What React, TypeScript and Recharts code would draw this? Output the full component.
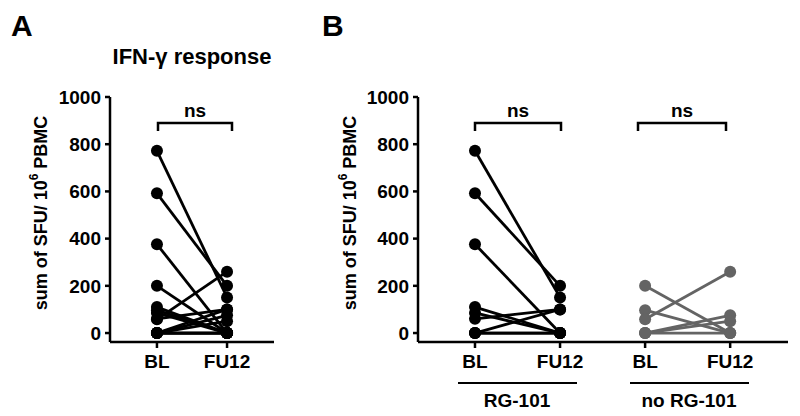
import React from "react";
import { LineChart, Line, XAxis, YAxis } from "recharts";

// ---- data ----
const timepoints = ["BL", "FU12"];
const yTicks = [0, 200, 400, 600, 800, 1000];

// RG-101 treated patients
const rgBL = [772, 592, 376, 110, 85, 60, 0, 0, 0];
const rgFU12 = [151, 200, 0, 0, 0, 100, 100, 0, 0];

// no RG-101 patients
const noRgBL = [200, 97, 58, 0, 0, 0];
const noRgFU12 = [0, 0, 260, 75, 50, 0];

const groupLabels = ["RG-101", "no RG-101"];
const yLabelMain = "sum of SFU/ 10";
const yLabelSup = "6";
const yLabelTail = " PBMC";

const FONT = "'Liberation Sans', Arial, Helvetica, sans-serif";
const BLACK = "#000000";
const GREY = "#646464";

type Pt = { x: number; y: number };
const pairs = (bl: number[], fu: number[], offset: number): Pt[][] =>
  bl.map((v, i) => [
    { x: offset + 1, y: v },
    { x: offset + 2, y: fu[i] },
  ]);

const panelA = [...pairs(rgBL, rgFU12, 0), ...pairs(noRgBL, noRgFU12, 0)];
const panelBrg = pairs(rgBL, rgFU12, 0);
const panelBno = pairs(noRgBL, noRgFU12, 2);

const tickStyle = { fill: BLACK, fontSize: 19, fontWeight: 700, fontFamily: FONT };
const axisLine = { stroke: BLACK, strokeWidth: 2.5 };

const xLabel = (v: number) => timepoints[(Math.round(v) - 1) % 2];

function renderLines(sets: Pt[][], color: string, prefix: string) {
  return sets.map((d, i) => (
    <Line
      key={prefix + i}
      data={d}
      dataKey="y"
      type="linear"
      stroke={color}
      strokeWidth={2.8}
      dot={{ r: 6, fill: color, stroke: color, strokeWidth: 0 }}
      activeDot={false}
      isAnimationActive={false}
    />
  ));
}

function Bracket({ x1, x2, y, label }: { x1: number; x2: number; y: number; label: string }) {
  return (
    <g>
      <path d={`M${x1},${y + 8} L${x1},${y} L${x2},${y} L${x2},${y + 8}`} fill="none" stroke={BLACK} strokeWidth={2.5} />
      <text x={(x1 + x2) / 2} y={y - 6} textAnchor="middle" fontSize={19} fontWeight={700} fontFamily={FONT} fill={BLACK}>
        {label}
      </text>
    </g>
  );
}

function YLabel({ cx, cy }: { cx: number; cy: number }) {
  return (
    <text
      transform={`translate(${cx},${cy}) rotate(-90)`}
      textAnchor="middle"
      dominantBaseline="central"
      fontSize={18}
      fontWeight={700}
      fontFamily={FONT}
      fill={BLACK}
    >
      {yLabelMain}
      <tspan fontSize={12} dy={-7}>{yLabelSup}</tspan>
      <tspan dy={7}>{yLabelTail}</tspan>
    </text>
  );
}

export default function App() {
  return (
    <div style={{ position: "absolute", left: 0, top: 0, width: 800, height: 416, background: "#fff" }}>
      <div style={{ position: "absolute", left: 0, top: 0 }}>
        <LineChart width={300} height={416} margin={{ top: 97, right: 26, bottom: 44, left: 0 }}>
          <XAxis
            dataKey="x"
            type="number"
            domain={[0.33, 2.67]}
            ticks={[1, 2]}
            allowDataOverflow
            tickFormatter={xLabel}
            tick={tickStyle}
            axisLine={axisLine}
            tickLine={axisLine}
            tickSize={6}
            tickMargin={7}
            height={30}
          />
          <YAxis
            type="number"
            domain={[-38, 1000]}
            ticks={yTicks}
            allowDataOverflow
            tick={tickStyle}
            axisLine={axisLine}
            tickLine={axisLine}
            tickSize={5}
            tickMargin={4}
            width={110}
          />
          {renderLines(panelA, BLACK, "a")}
        </LineChart>
      </div>
      <div style={{ position: "absolute", left: 300, top: 0 }}>
        <LineChart width={500} height={416} margin={{ top: 97, right: 12, bottom: 44, left: 0 }}>
          <XAxis
            dataKey="x"
            type="number"
            domain={[0.33, 4.68]}
            ticks={[1, 2, 3, 4]}
            allowDataOverflow
            tickFormatter={xLabel}
            tick={tickStyle}
            axisLine={axisLine}
            tickLine={axisLine}
            tickSize={6}
            tickMargin={7}
            height={30}
          />
          <YAxis
            type="number"
            domain={[-38, 1000]}
            ticks={yTicks}
            allowDataOverflow
            tick={tickStyle}
            axisLine={axisLine}
            tickLine={axisLine}
            tickSize={5}
            tickMargin={4}
            width={118}
          />
          {renderLines(panelBrg, BLACK, "b")}
          {renderLines(panelBno, GREY, "c")}
        </LineChart>
      </div>
      <svg width={800} height={416} style={{ position: "absolute", left: 0, top: 0, pointerEvents: "none" }}>
        <text x={11} y={36} fontSize={30} fontWeight={700} fontFamily={FONT} fill={BLACK}>A</text>
        <text x={322} y={36} fontSize={30} fontWeight={700} fontFamily={FONT} fill={BLACK}>B</text>
        <text x={192} y={64} textAnchor="middle" fontSize={22} fontWeight={700} fontFamily={FONT} fill={BLACK}>
          IFN-γ response
        </text>
        <YLabel cx={41} cy={213} />
        <YLabel cx={350} cy={213} />
        <Bracket x1={158} x2={232} y={123} label="ns" />
        <Bracket x1={475} x2={561} y={123} label="ns" />
        <Bracket x1={638} x2={726} y={123} label="ns" />
        <line x1={458} x2={577} y1={383} y2={383} stroke={BLACK} strokeWidth={2} />
        <line x1={630} x2={749} y1={383} y2={383} stroke={BLACK} strokeWidth={2} />
        <text x={517} y={407} textAnchor="middle" fontSize={19} fontWeight={700} fontFamily={FONT} fill={BLACK}>{groupLabels[0]}</text>
        <text x={689} y={407} textAnchor="middle" fontSize={19} fontWeight={700} fontFamily={FONT} fill={BLACK}>{groupLabels[1]}</text>
      </svg>
    </div>
  );
}
